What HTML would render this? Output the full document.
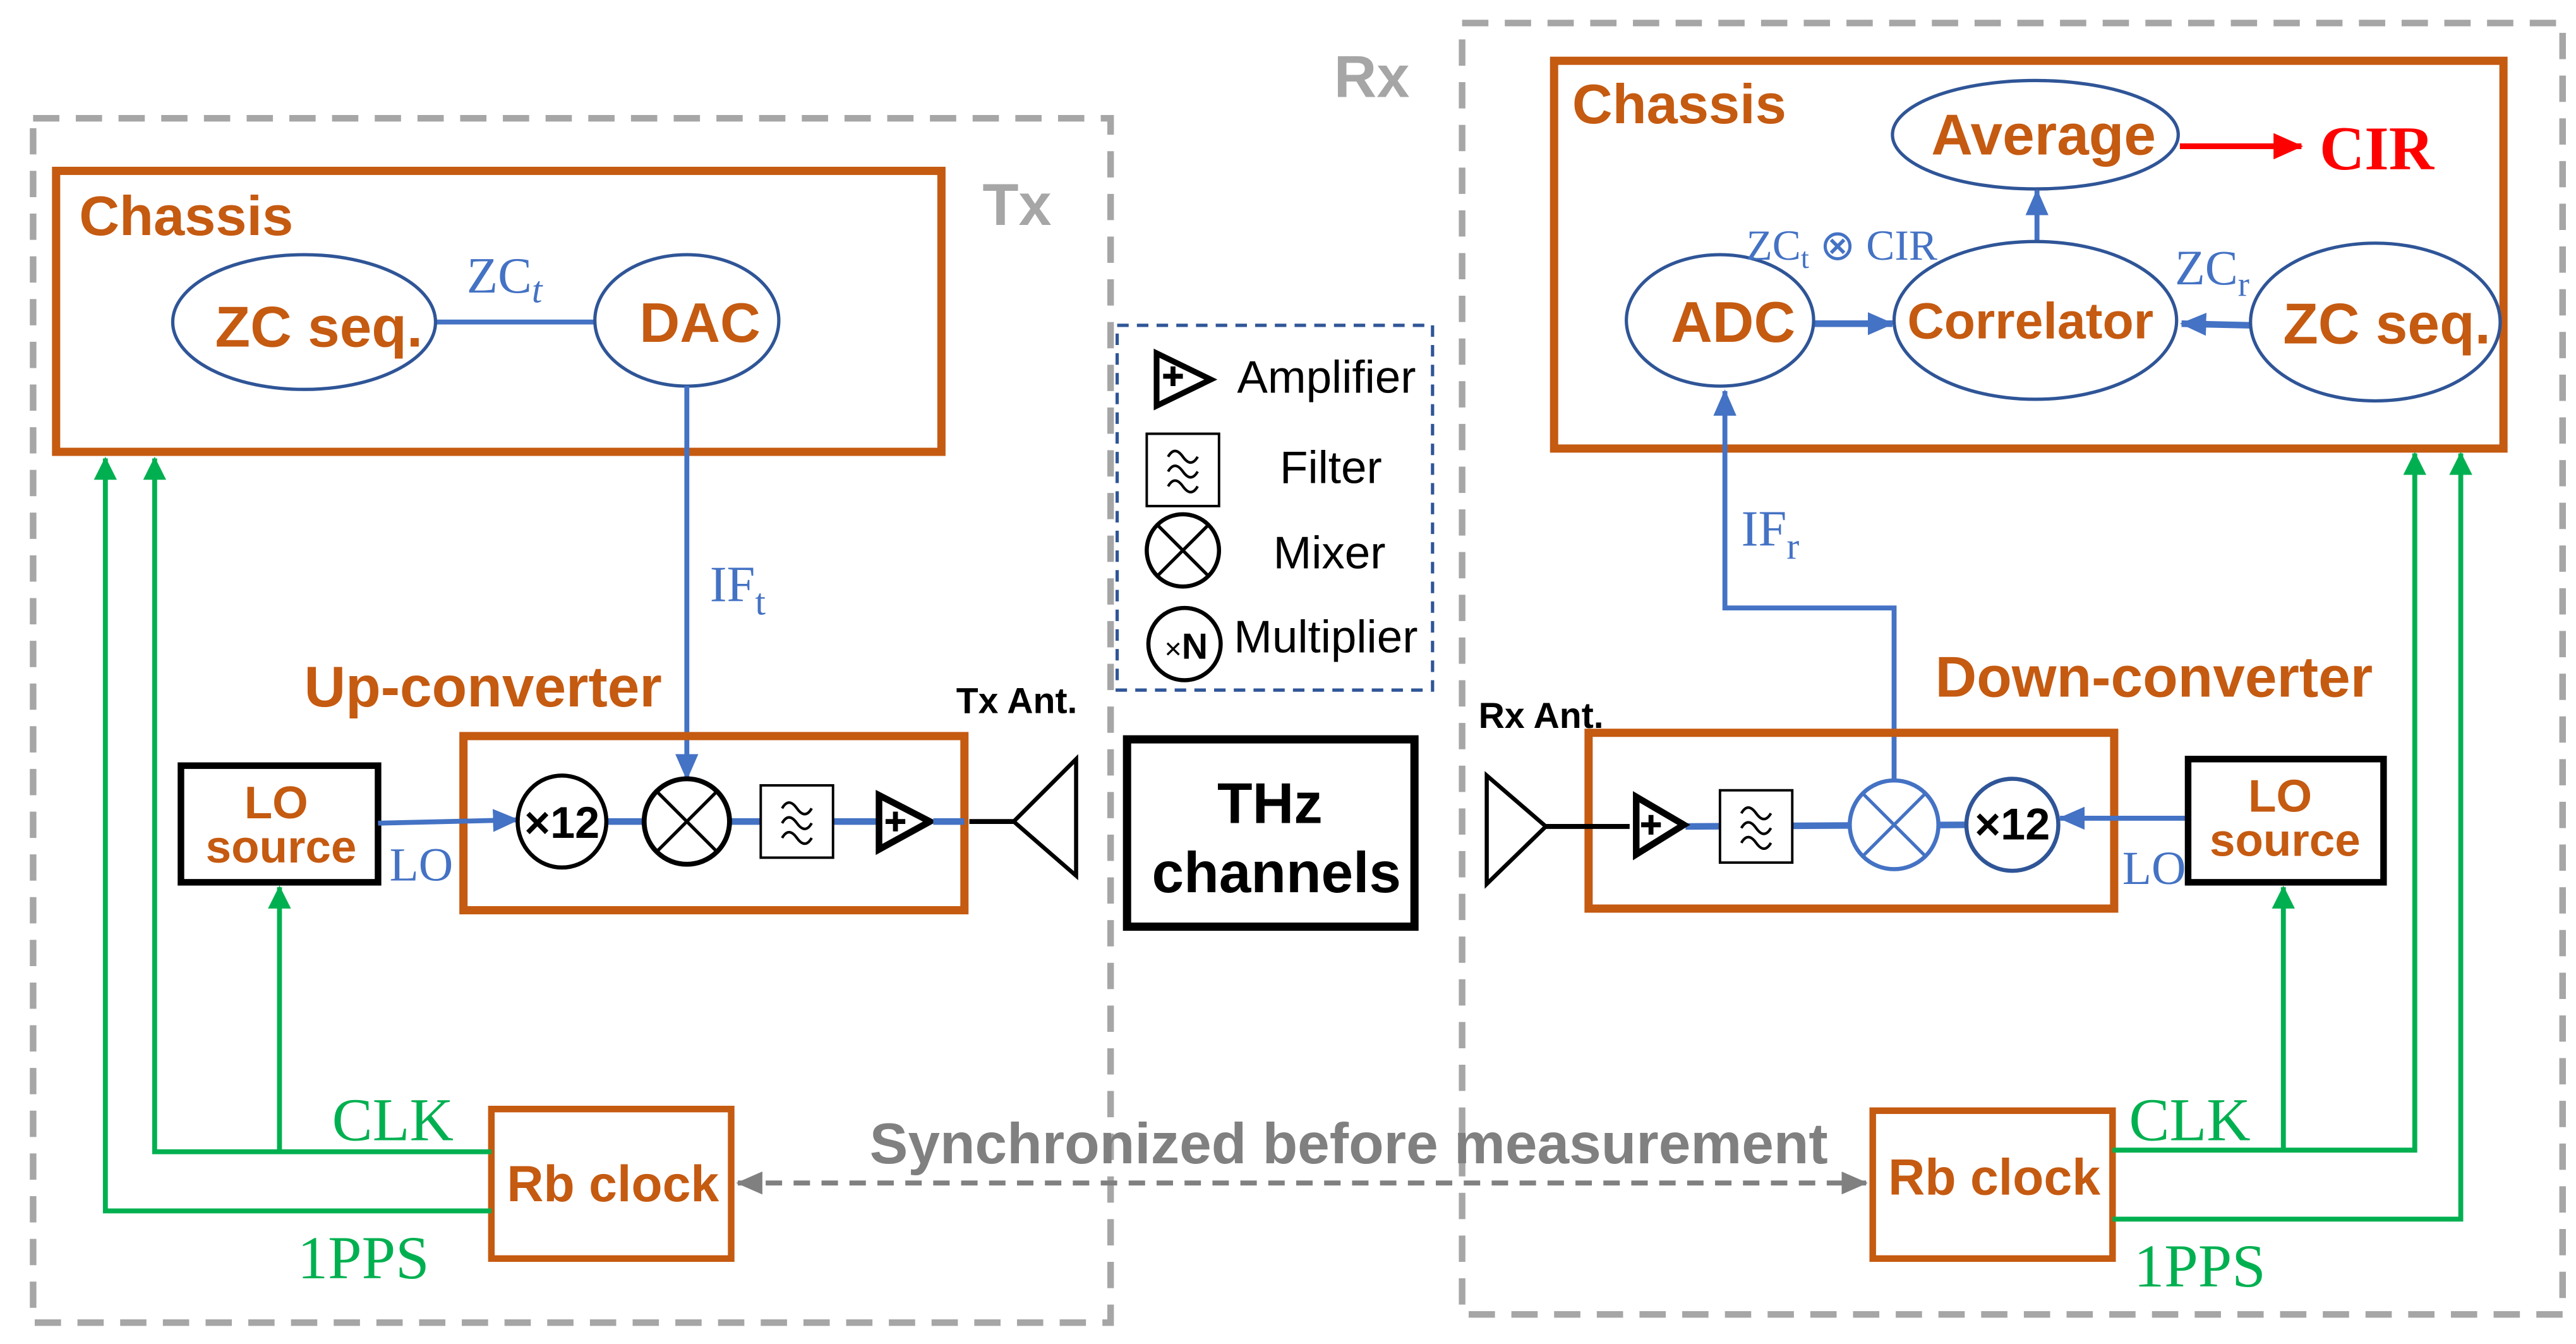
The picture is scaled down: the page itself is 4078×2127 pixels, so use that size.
<!DOCTYPE html>
<html><head><meta charset="utf-8"><style>
html,body{margin:0;padding:0;background:#fff;}
svg{display:block;}
text{font-family:"Liberation Sans",sans-serif;}
.or{fill:#C55A11;font-weight:bold;}
.ser{font-family:"Liberation Serif",serif;}
</style></head><body>
<svg width="4078" height="2127" viewBox="0 0 1568 818" xmlns="http://www.w3.org/2000/svg">
<defs>
<marker id="abS" markerWidth="16" markerHeight="14" refX="15" refY="7" orient="auto" markerUnits="userSpaceOnUse" viewBox="0 0 16 14"><path d="M0,0 L16,7 L0,14 z" fill="#4472C4"/></marker>
<marker id="ag" markerWidth="14" markerHeight="14" refX="13" refY="7" orient="auto" markerUnits="userSpaceOnUse" viewBox="0 0 14 14"><path d="M0,0 L14,7 L0,14 z" fill="#00B050"/></marker>
<marker id="ar" markerWidth="18" markerHeight="16" refX="17" refY="8" orient="auto" markerUnits="userSpaceOnUse" viewBox="0 0 18 16"><path d="M0,0 L18,8 L0,16 z" fill="#FF0000"/></marker>
<marker id="agr" markerWidth="16" markerHeight="14" refX="15" refY="7" orient="auto-start-reverse" markerUnits="userSpaceOnUse" viewBox="0 0 16 14"><path d="M0,0 L16,7 L0,14 z" fill="#808080"/></marker>
<g id="filt"><rect x="0" y="0" width="44" height="44" fill="#fff" stroke="#000" stroke-width="1.5"/>
<path d="M13,14 q4,-7 9,0 t9,0 M13,23 q4,-7 9,0 t9,0 M13,32 q4,-7 9,0 t9,0" fill="none" stroke="#000" stroke-width="1.6"/></g>
</defs>

<rect x="20" y="72" width="656" height="733" fill="none" stroke="#A6A6A6" stroke-width="4" stroke-dasharray="16,10"/>
<rect x="890" y="14" width="670" height="786" fill="none" stroke="#A6A6A6" stroke-width="4" stroke-dasharray="16,10"/>
<text x="598" y="137" font-size="36" font-weight="bold" fill="#A6A6A6">Tx</text>
<text x="812" y="59" font-size="36" font-weight="bold" fill="#A6A6A6">Rx</text>

<rect x="34" y="104" width="539" height="171" fill="none" stroke="#C55A11" stroke-width="5"/>
<text x="48" y="143" font-size="34" class="or">Chassis</text>
<line x1="265" y1="196" x2="362" y2="196" stroke="#4472C4" stroke-width="3"/>
<ellipse cx="185" cy="196" rx="80" ry="41" fill="#fff" stroke="#2F5597" stroke-width="2"/>
<text x="194" y="211" font-size="35" class="or" text-anchor="middle">ZC seq.</text>
<ellipse cx="418" cy="195" rx="56" ry="40" fill="#fff" stroke="#2F5597" stroke-width="2"/>
<text x="426" y="208" font-size="34" class="or" text-anchor="middle">DAC</text>
<text x="284" y="178" font-size="31" fill="#4472C4" class="ser">ZC<tspan font-size="23" font-style="italic" dy="6">t</tspan></text>
<line x1="418" y1="235" x2="418" y2="474" stroke="#4472C4" stroke-width="3" marker-end="url(#abS)"/>
<text x="432" y="366" font-size="31" fill="#4472C4" class="ser">IF<tspan font-size="23" dy="8">t</tspan></text>

<text x="185" y="430" font-size="35" class="or">Up-converter</text>
<rect x="282" y="448" width="305" height="106" fill="none" stroke="#C55A11" stroke-width="5"/>
<rect x="110" y="466" width="120" height="71" fill="#fff" stroke="#000" stroke-width="4"/>
<text x="168" y="498" font-size="28" class="or" text-anchor="middle">LO</text>
<text x="171" y="525" font-size="28" class="or" text-anchor="middle">source</text>
<line x1="230" y1="501" x2="315" y2="499" stroke="#4472C4" stroke-width="3" marker-end="url(#abS)"/>
<text x="237" y="536" font-size="29" fill="#4472C4" class="ser">LO</text>
<line x1="368" y1="500" x2="560" y2="500" stroke="#4472C4" stroke-width="4"/>
<ellipse cx="342" cy="500" rx="27" ry="28" fill="#fff" stroke="#000" stroke-width="2.5"/>
<text x="342" y="510" font-size="27" text-anchor="middle" font-weight="bold">×12</text>
<circle cx="418" cy="500" r="26" fill="#fff" stroke="#000" stroke-width="3"/>
<path d="M400,482 L436,518 M436,482 L400,518" stroke="#000" stroke-width="2"/>
<use href="#filt" x="463" y="478"/>
<path d="M535,484 L535,517 L566,500 z" fill="#fff" stroke="#000" stroke-width="4"/>
<path d="M539,500 h12 M545,494 v12" stroke="#000" stroke-width="3"/>
<line x1="568" y1="500" x2="587" y2="500" stroke="#4472C4" stroke-width="4"/>
<line x1="590" y1="500" x2="617" y2="500" stroke="#000" stroke-width="3"/>
<path d="M617,500 L655,462 L655,533 z" fill="#fff" stroke="#000" stroke-width="2.5"/>
<text x="582" y="434" font-size="22" font-weight="bold">Tx Ant.</text>

<rect x="686" y="450" width="175" height="114" fill="#fff" stroke="#000" stroke-width="5"/>
<text x="773" y="501" font-size="35" font-weight="bold" text-anchor="middle">THz</text>
<text x="777" y="543" font-size="35" font-weight="bold" text-anchor="middle">channels</text>

<rect x="680" y="198" width="192" height="222" fill="#fff" stroke="#2F5597" stroke-width="2" stroke-dasharray="7,5"/>
<path d="M704,215 L704,247 L737,231 z" fill="#fff" stroke="#000" stroke-width="3.5"/>
<path d="M708,229 h12 M714,223 v12" stroke="#000" stroke-width="3"/>
<text x="753" y="239" font-size="28">Amplifier</text>
<use href="#filt" x="698" y="264"/>
<text x="779" y="294" font-size="28">Filter</text>
<circle cx="720" cy="335" r="22" fill="#fff" stroke="#000" stroke-width="2.5"/>
<path d="M704,319 L736,351 M736,319 L704,351" stroke="#000" stroke-width="2"/>
<text x="775" y="346" font-size="28">Mixer</text>
<circle cx="721" cy="392" r="22" fill="#fff" stroke="#000" stroke-width="2.5"/>
<text x="722" y="401" font-size="22" text-anchor="middle"><tspan font-size="18">×</tspan><tspan font-weight="bold">N</tspan></text>
<text x="751" y="397" font-size="28">Multiplier</text>

<rect x="946" y="37" width="578" height="236" fill="none" stroke="#C55A11" stroke-width="5"/>
<text x="957" y="75" font-size="34" class="or">Chassis</text>
<ellipse cx="1239" cy="82" rx="87" ry="33" fill="#fff" stroke="#2F5597" stroke-width="2"/>
<text x="1244" y="94" font-size="35" class="or" text-anchor="middle">Average</text>
<line x1="1327" y1="89" x2="1401" y2="89" stroke="#FF0000" stroke-width="3.5" marker-end="url(#ar)"/>
<text x="1412" y="103" font-size="38" font-weight="bold" fill="#FF0000" class="ser">CIR</text>
<line x1="1104" y1="197" x2="1152" y2="197" stroke="#4472C4" stroke-width="4" marker-end="url(#abS)"/>
<line x1="1370" y1="198" x2="1328" y2="197" stroke="#4472C4" stroke-width="4" marker-end="url(#abS)"/>
<line x1="1240" y1="148" x2="1240" y2="116" stroke="#4472C4" stroke-width="3" marker-end="url(#abS)"/>
<ellipse cx="1047" cy="195" rx="57" ry="40" fill="#fff" stroke="#2F5597" stroke-width="2"/>
<text x="1055" y="208" font-size="35" class="or" text-anchor="middle">ADC</text>
<ellipse cx="1239" cy="195" rx="86" ry="48" fill="#fff" stroke="#2F5597" stroke-width="2"/>
<text x="1236" y="206" font-size="31" class="or" text-anchor="middle">Correlator</text>
<ellipse cx="1446" cy="196" rx="76" ry="48" fill="#fff" stroke="#2F5597" stroke-width="2"/>
<text x="1453" y="209" font-size="35" class="or" text-anchor="middle">ZC seq.</text>
<text x="1063" y="158" font-size="26" fill="#4472C4" class="ser">ZC<tspan font-size="18" dy="5">t</tspan><tspan dy="-5"> ⊗ CIR</tspan></text>
<text x="1324" y="173" font-size="30" fill="#4472C4" class="ser">ZC<tspan font-size="21" dy="7">r</tspan></text>

<polyline points="1153,476 1153,370 1050,370 1050,238" fill="none" stroke="#4472C4" stroke-width="3" marker-end="url(#abS)"/>
<text x="1060" y="332" font-size="31" fill="#4472C4" class="ser">IF<tspan font-size="23" dy="8">r</tspan></text>

<text x="1178" y="424" font-size="35" class="or">Down-converter</text>
<rect x="967" y="446" width="320" height="107" fill="none" stroke="#C55A11" stroke-width="5"/>
<path d="M941,503 L905,472 L905,538 z" fill="#fff" stroke="#000" stroke-width="2.5"/>
<line x1="941" y1="503" x2="992" y2="503" stroke="#000" stroke-width="3"/>
<line x1="1026" y1="503" x2="1200" y2="502" stroke="#4472C4" stroke-width="4"/>
<path d="M996,485 L996,520 L1025,502 z" fill="#fff" stroke="#000" stroke-width="4"/>
<path d="M999,502 h12 M1005,496 v12" stroke="#000" stroke-width="3"/>
<use href="#filt" x="1047" y="481"/>
<circle cx="1153" cy="502" r="27" fill="#fff" stroke="#4472C4" stroke-width="2.5"/>
<path d="M1134,483 L1172,521 M1172,483 L1134,521" stroke="#4472C4" stroke-width="2"/>
<ellipse cx="1225" cy="502" rx="28" ry="28" fill="#fff" stroke="#2F5597" stroke-width="2.5"/>
<text x="1225" y="511" font-size="27" text-anchor="middle" font-weight="bold">×12</text>
<line x1="1331" y1="498" x2="1254" y2="498" stroke="#4472C4" stroke-width="3" marker-end="url(#abS)"/>
<text x="1292" y="538" font-size="29" fill="#4472C4" class="ser">LO</text>
<rect x="1332" y="462" width="119" height="75" fill="#fff" stroke="#000" stroke-width="4"/>
<text x="1388" y="494" font-size="28" class="or" text-anchor="middle">LO</text>
<text x="1391" y="521" font-size="28" class="or" text-anchor="middle">source</text>
<text x="900" y="443" font-size="22" font-weight="bold">Rx Ant.</text>

<rect x="299" y="675" width="146" height="91" fill="#fff" stroke="#C55A11" stroke-width="4"/>
<text x="373" y="731" font-size="31" class="or" text-anchor="middle">Rb clock</text>
<rect x="1140" y="676" width="146" height="90" fill="#fff" stroke="#C55A11" stroke-width="4"/>
<text x="1214" y="727" font-size="31" class="or" text-anchor="middle">Rb clock</text>
<line x1="449" y1="720" x2="1136" y2="720" stroke="#808080" stroke-width="3" stroke-dasharray="10,7" marker-start="url(#agr)" marker-end="url(#agr)"/>
<text x="821" y="708" font-size="35" font-weight="bold" fill="#808080" text-anchor="middle">Synchronized before measurement</text>

<polyline points="299,701 94,701 94,279" fill="none" stroke="#00B050" stroke-width="3" marker-end="url(#ag)"/>
<line x1="170" y1="701" x2="170" y2="540" stroke="#00B050" stroke-width="3" marker-end="url(#ag)"/>
<polyline points="299,737 64,737 64,279" fill="none" stroke="#00B050" stroke-width="3" marker-end="url(#ag)"/>
<text x="202" y="694" font-size="37" fill="#00B050" class="ser">CLK</text>
<text x="181" y="778" font-size="37" fill="#00B050" class="ser">1PPS</text>
<polyline points="1286,700 1470,700 1470,276" fill="none" stroke="#00B050" stroke-width="3" marker-end="url(#ag)"/>
<line x1="1390" y1="700" x2="1390" y2="540" stroke="#00B050" stroke-width="3" marker-end="url(#ag)"/>
<polyline points="1286,742 1498,742 1498,276" fill="none" stroke="#00B050" stroke-width="3" marker-end="url(#ag)"/>
<text x="1296" y="694" font-size="37" fill="#00B050" class="ser">CLK</text>
<text x="1299" y="783" font-size="37" fill="#00B050" class="ser">1PPS</text>
</svg>
</body></html>
